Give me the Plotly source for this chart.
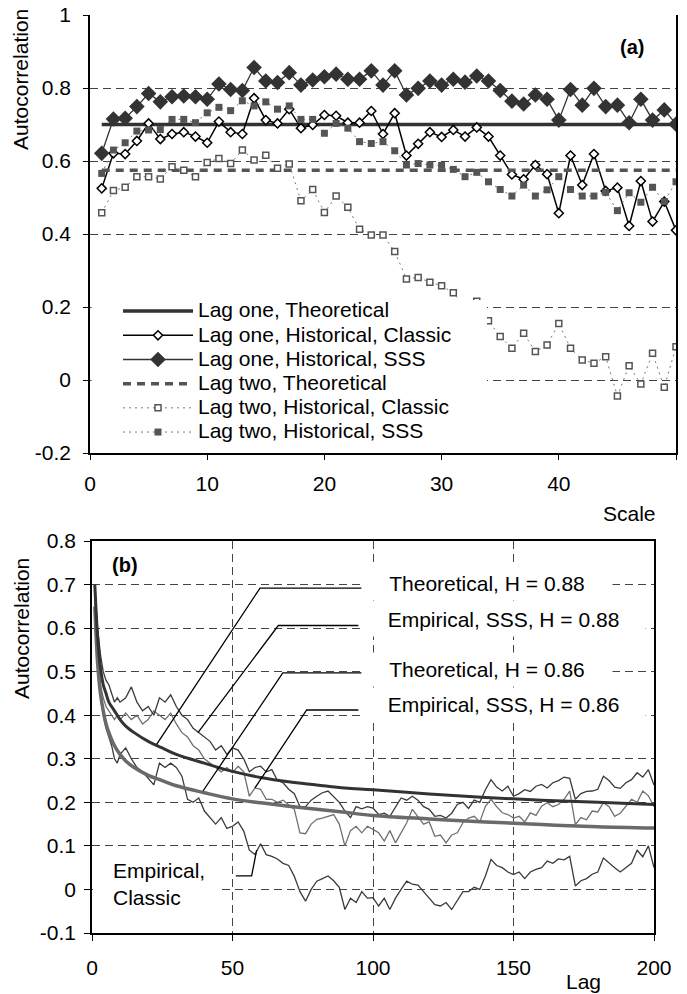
import plotly.graph_objects as go

W, H = 687, 994
FONT = "Arial, Liberation Sans, sans-serif"

# ---------------- Panel (a) data ----------------
scale = list(range(1, 51))
lag1_theoretical = [0.70] * 50
lag1_hist_classic = [0.525, 0.621, 0.619, 0.655, 0.703, 0.660, 0.674, 0.679, 0.667, 0.650,
                     0.708, 0.679, 0.674, 0.772, 0.712, 0.703, 0.742, 0.690, 0.699, 0.726,
                     0.724, 0.705, 0.705, 0.737, 0.674, 0.731, 0.615, 0.647, 0.679, 0.666,
                     0.685, 0.667, 0.692, 0.667, 0.615, 0.563, 0.550, 0.589, 0.564, 0.457,
                     0.615, 0.534, 0.619, 0.518, 0.527, 0.422, 0.545, 0.434, 0.489, 0.410]
lag1_hist_sss = [0.621, 0.715, 0.717, 0.749, 0.785, 0.762, 0.776, 0.778, 0.776, 0.769,
                 0.811, 0.796, 0.793, 0.856, 0.819, 0.815, 0.842, 0.808, 0.822, 0.831,
                 0.838, 0.824, 0.824, 0.847, 0.808, 0.847, 0.781, 0.799, 0.819, 0.808,
                 0.824, 0.816, 0.833, 0.819, 0.793, 0.764, 0.756, 0.781, 0.769, 0.712,
                 0.796, 0.753, 0.799, 0.749, 0.753, 0.705, 0.769, 0.712, 0.740, 0.701]
lag2_theoretical = [0.575] * 50
lag2_hist_classic = [0.458, 0.519, 0.528, 0.557, 0.557, 0.551, 0.584, 0.575, 0.557, 0.596,
                     0.607, 0.593, 0.630, 0.603, 0.616, 0.580, 0.592, 0.491, 0.522, 0.459,
                     0.504, 0.473, 0.413, 0.397, 0.397, 0.352, 0.277, 0.281, 0.268, 0.258,
                     0.239, 0.198, 0.216, 0.162, 0.119, 0.087, 0.128, 0.078, 0.096, 0.155,
                     0.087, 0.055, 0.046, 0.064, -0.044, 0.039, -0.011, 0.073, -0.020, 0.091]
lag2_hist_sss = [0.566, 0.630, 0.650, 0.682, 0.685, 0.686, 0.714, 0.714, 0.705, 0.732,
                 0.747, 0.738, 0.765, 0.751, 0.762, 0.742, 0.751, 0.714, 0.714, 0.676,
                 0.703, 0.690, 0.653, 0.648, 0.653, 0.628, 0.589, 0.593, 0.589, 0.588,
                 0.577, 0.557, 0.569, 0.543, 0.522, 0.504, 0.534, 0.504, 0.521, 0.557,
                 0.522, 0.504, 0.504, 0.514, 0.464, 0.513, 0.487, 0.528, 0.489, 0.543]
a_series_names = ["Lag one, Theoretical", "Lag one, Historical, Classic",
                  "Lag one, Historical, SSS", "Lag two, Theoretical",
                  "Lag two, Historical, Classic", "Lag two, Historical, SSS"]
a_xticks = [0, 10, 20, 30, 40, 50]
a_yticks = [-0.2, 0, 0.2, 0.4, 0.6, 0.8, 1]
a_ytext = ["-0.2", "0", "0.2", "0.4", "0.6", "0.8", "1"]

# ---------------- Panel (b) data ----------------
theo_lags = [1, 2, 3, 4, 5, 6, 8, 10, 12, 15, 20, 25, 30, 40, 50, 60, 70, 80, 90, 100,
             120, 140, 160, 180, 200]
theo_h088 = [0.70, 0.58, 0.51, 0.47, 0.45, 0.43, 0.41, 0.39, 0.375, 0.36, 0.34, 0.325,
             0.31, 0.29, 0.271, 0.257, 0.247, 0.240, 0.233, 0.229, 0.219, 0.211, 0.205,
             0.200, 0.195]
theo_h086 = [0.65, 0.52, 0.45, 0.41, 0.38, 0.36, 0.33, 0.31, 0.295, 0.28, 0.262, 0.25,
             0.238, 0.222, 0.208, 0.199, 0.191, 0.184, 0.177, 0.170, 0.162, 0.155, 0.149,
             0.144, 0.141]

emp_lags = list(range(1, 11)) + list(range(12, 201, 2))
emp_sss_h088 = [0.70, 0.60, 0.54, 0.50, 0.48, 0.47, 0.45, 0.43, 0.44, 0.43,
                0.44, 0.465, 0.43, 0.41, 0.42, 0.40, 0.44, 0.43, 0.447, 0.42,
                0.40, 0.39, 0.37, 0.36, 0.35, 0.34, 0.32, 0.33, 0.31, 0.325,
                0.32, 0.30, 0.27, 0.28, 0.283, 0.27, 0.275, 0.25, 0.245, 0.23,
                0.22, 0.19, 0.19, 0.205, 0.214, 0.222, 0.226, 0.214, 0.20, 0.18,
                0.165, 0.19, 0.185, 0.19, 0.187, 0.172, 0.175, 0.168, 0.19, 0.21,
                0.205, 0.214, 0.205, 0.19, 0.184, 0.168, 0.17, 0.164, 0.175, 0.195,
                0.20, 0.186, 0.205, 0.20, 0.229, 0.252, 0.235, 0.226, 0.237, 0.214,
                0.22, 0.229, 0.225, 0.237, 0.241, 0.233, 0.245, 0.25, 0.258, 0.255,
                0.207, 0.22, 0.225, 0.226, 0.23, 0.26, 0.25, 0.235, 0.232, 0.245,
                0.252, 0.268, 0.258, 0.275, 0.24]
emp_sss_h086 = [0.64, 0.52, 0.47, 0.44, 0.42, 0.41, 0.40, 0.39, 0.40, 0.39,
                0.405, 0.39, 0.40, 0.38, 0.39, 0.41, 0.40, 0.39, 0.405, 0.38,
                0.36, 0.35, 0.33, 0.32, 0.30, 0.29, 0.28, 0.27, 0.28, 0.268,
                0.283, 0.27, 0.214, 0.233, 0.23, 0.207, 0.207, 0.20, 0.205, 0.195,
                0.184, 0.13, 0.128, 0.15, 0.161, 0.164, 0.168, 0.172, 0.15, 0.10,
                0.135, 0.145, 0.13, 0.145, 0.138, 0.13, 0.111, 0.135, 0.107, 0.13,
                0.153, 0.184, 0.168, 0.15, 0.155, 0.122, 0.125, 0.107, 0.125, 0.13,
                0.153, 0.164, 0.168, 0.155, 0.191, 0.207, 0.19, 0.176, 0.172, 0.164,
                0.168, 0.155, 0.176, 0.17, 0.191, 0.199, 0.19, 0.195, 0.207, 0.226,
                0.149, 0.165, 0.16, 0.18, 0.178, 0.199, 0.19, 0.168, 0.175, 0.19,
                0.207, 0.20, 0.226, 0.215, 0.19]
emp_classic = [0.68, 0.52, 0.45, 0.40, 0.37, 0.35, 0.33, 0.30, 0.29, 0.31,
               0.325, 0.30, 0.28, 0.27, 0.255, 0.24, 0.29, 0.28, 0.29, 0.28,
               0.26, 0.207, 0.20, 0.21, 0.18, 0.165, 0.15, 0.165, 0.14, 0.145,
               0.155, 0.134, 0.09, 0.08, 0.105, 0.08, 0.076, 0.07, 0.06, 0.055,
               0.03, -0.005, -0.027, 0.0, 0.019, 0.025, 0.031, 0.02, 0.005, -0.046,
               -0.02, -0.03, -0.005, -0.02, -0.019, -0.038, -0.02, -0.046, -0.02, 0.0,
               0.019, 0.012, 0.01, -0.005, -0.02, -0.035, -0.038, -0.03, -0.046, -0.025,
               -0.005, -0.005, 0.005, 0.0, 0.031, 0.069, 0.055, 0.05, 0.04, 0.034,
               0.04, 0.025, 0.04, 0.046, 0.05, 0.065, 0.06, 0.07, 0.068, 0.076,
               0.008, 0.02, 0.025, 0.035, 0.04, 0.072, 0.06, 0.05, 0.04, 0.05,
               0.06, 0.09, 0.075, 0.10, 0.05]
b_xticks = [0, 50, 100, 150, 200]
b_yticks = [-0.1, 0, 0.1, 0.2, 0.3, 0.4, 0.5, 0.6, 0.7, 0.8]
b_ytext = ["-0.1", "0", "0.1", "0.2", "0.3", "0.4", "0.5", "0.6", "0.7", "0.8"]

# callout label texts and the (lag, value) points of their leader lines
callout_labels = ["Theoretical, H = 0.88", "Empirical, SSS, H = 0.88",
                  "Theoretical, H = 0.86", "Empirical, SSS, H = 0.86"]
callout_paths = [[(23, 0.333), (59.8, 0.692), (96, 0.692)],
                 [(37.7, 0.36), (66.3, 0.606), (94.8, 0.606)],
                 [(39.5, 0.226), (67.9, 0.497), (96, 0.497)],
                 [(58, 0.233), (76.4, 0.412), (94.8, 0.412)],
                 [(51.2, 0.031), (56.8, 0.031), (58.6, 0.09)]]


def px(x):
    return x / W


def py(y):
    return 1 - y / H


def lname(s):
    return f'<span style="font-size:21px">{s}</span>'


fig = go.Figure()

# Panel (a)
fig.add_trace(go.Scatter(x=scale, y=lag1_theoretical, mode="lines", name=lname(a_series_names[0]),
                         line=dict(color="#333333", width=3.5)))
fig.add_trace(go.Scatter(x=scale, y=lag1_hist_classic, mode="lines+markers",
                         name=lname(a_series_names[1]),
                         line=dict(color="#000000", width=1.5),
                         marker=dict(symbol="diamond", size=7, color="white",
                                     line=dict(color="black", width=1.5))))
fig.add_trace(go.Scatter(x=scale, y=lag1_hist_sss, mode="lines+markers",
                         name=lname(a_series_names[2]),
                         line=dict(color="#333333", width=1.3),
                         marker=dict(symbol="diamond", size=12, color="#333333",
                                     line=dict(color="#333333", width=0))))
fig.add_trace(go.Scatter(x=scale, y=lag2_theoretical, mode="lines", name=lname(a_series_names[3]),
                         line=dict(color="#555555", width=3.5, dash="8px,6px")))
fig.add_trace(go.Scatter(x=scale, y=lag2_hist_classic, mode="lines+markers",
                         name=lname(a_series_names[4]),
                         line=dict(color="#777777", width=1, dash="2px,4px"),
                         marker=dict(symbol="square", size=6, color="white",
                                     line=dict(color="#555555", width=1.5))))
fig.add_trace(go.Scatter(x=scale, y=lag2_hist_sss, mode="lines+markers",
                         name=lname(a_series_names[5]),
                         line=dict(color="#777777", width=1, dash="2px,4px"),
                         marker=dict(symbol="square", size=7, color="#555555",
                                     line=dict(color="#555555", width=0))))

# Panel (b)
fig.add_trace(go.Scatter(x=emp_lags, y=emp_classic, mode="lines", showlegend=False,
                         line=dict(color="#3a3a3a", width=1.3), xaxis="x2", yaxis="y2"))
fig.add_trace(go.Scatter(x=emp_lags, y=emp_sss_h086, mode="lines", showlegend=False,
                         line=dict(color="#707070", width=1.3), xaxis="x2", yaxis="y2"))
fig.add_trace(go.Scatter(x=emp_lags, y=emp_sss_h088, mode="lines", showlegend=False,
                         line=dict(color="#3a3a3a", width=1.3), xaxis="x2", yaxis="y2"))
fig.add_trace(go.Scatter(x=theo_lags, y=theo_h086, mode="lines", showlegend=False,
                         line=dict(color="#6a6a6a", width=3.5, shape="spline"),
                         xaxis="x2", yaxis="y2"))
fig.add_trace(go.Scatter(x=theo_lags, y=theo_h088, mode="lines", showlegend=False,
                         line=dict(color="#333333", width=3, shape="spline"),
                         xaxis="x2", yaxis="y2"))

tickfont = dict(family=FONT, size=21, color="black")
grid = dict(showgrid=True, gridcolor="#444444", gridwidth=1, griddash="8px,5px")

shapes = []
# white legend box (hides gridlines behind the legend, like the original)
shapes.append(dict(type="rect", xref="paper", yref="paper", x0=px(91.5), x1=px(487),
                   y0=py(447), y1=py(300), fillcolor="white", line=dict(width=0),
                   layer="above"))
# white box behind the "Empirical, Classic" label
shapes.append(dict(type="rect", xref="paper", yref="paper", x0=px(93), x1=px(222),
                   y0=py(918), y1=py(850), fillcolor="white", line=dict(width=0),
                   layer="above"))
for pts in callout_paths:
    d = "M" + " L".join(f"{x},{y}" for x, y in pts)
    shapes.append(dict(type="path", xref="x2", yref="y2", path=d,
                       line=dict(color="black", width=1.3), layer="above"))


def ann(text, x, y, size=21, **kw):
    d = dict(text=text, x=px(x), y=py(y), xref="paper", yref="paper",
             xanchor="center", yanchor="middle", showarrow=False,
             font=dict(family=FONT, size=size, color="black"))
    d.update(kw)
    return d


annotations = [
    ann("<b>(a)</b>", 632, 47, size=20),
    ann("<b>(b)</b>", 125, 565, size=20),
    ann("Scale", 629, 513),
    ann("Lag", 583, 981),
    ann("Autocorrelation", 21, 80, textangle=-90),
    ann("Autocorrelation", 21, 629, textangle=-90),
    ann("Empirical,<br>Classic", 111, 884, xanchor="left", align="left"),
]
box_centers = [(487, 583, 250), (503, 619.5, 283), (487, 669, 250), (503, 704, 283)]
for label, (cx, cy, w) in zip(callout_labels, box_centers):
    annotations.append(ann(label, cx, cy, align="center", bgcolor="white", width=w,
                           height=33, borderpad=0))

fig.update_layout(
    width=W, height=H, margin=dict(l=0, r=0, t=0, b=0),
    paper_bgcolor="white", plot_bgcolor="white",
    font=dict(family=FONT, size=21, color="black"),
    xaxis=dict(domain=[px(90), px(676)], range=[0, 50], tickvals=a_xticks,
               showline=True, linecolor="black", linewidth=1.5, ticks="outside",
               ticklen=5, tickcolor="black", showgrid=False, zeroline=False,
               anchor="y", tickfont=tickfont, automargin=False, ticklabelstandoff=6),
    yaxis=dict(domain=[py(453), py(15)], range=[-0.2, 1], tickvals=a_yticks,
               ticktext=a_ytext, showline=True, mirror=True, linecolor="black",
               linewidth=1.5, ticks="outside", ticklen=5, tickcolor="black",
               zeroline=False, anchor="x", tickfont=tickfont, automargin=False,
               ticklabelstandoff=8, **grid),
    xaxis2=dict(domain=[px(92), px(654)], range=[0, 200], tickvals=b_xticks,
                showline=True, mirror=True, linecolor="black", linewidth=1.5,
                ticks="outside", ticklen=6, tickcolor="black", zeroline=False,
                anchor="y2", tickfont=tickfont, automargin=False,
                ticklabelstandoff=9, **grid),
    yaxis2=dict(domain=[py(933), py(541)], range=[-0.1, 0.8], tickvals=b_yticks,
                ticktext=b_ytext, showline=True, mirror=True, linecolor="black",
                linewidth=1.5, ticks="outside", ticklen=6, tickcolor="black",
                zeroline=False, anchor="x2", tickfont=tickfont, automargin=False,
                ticklabelstandoff=4, **grid),
    legend=dict(x=px(118), y=py(294), xanchor="left", yanchor="top",
                bgcolor="rgba(0,0,0,0)", font=dict(family=FONT, size=16.3, color="black"),
                itemwidth=70, tracegroupgap=0, traceorder="normal"),
    showlegend=True,
    shapes=shapes, annotations=annotations,
)

fig.write_html("out.html")
